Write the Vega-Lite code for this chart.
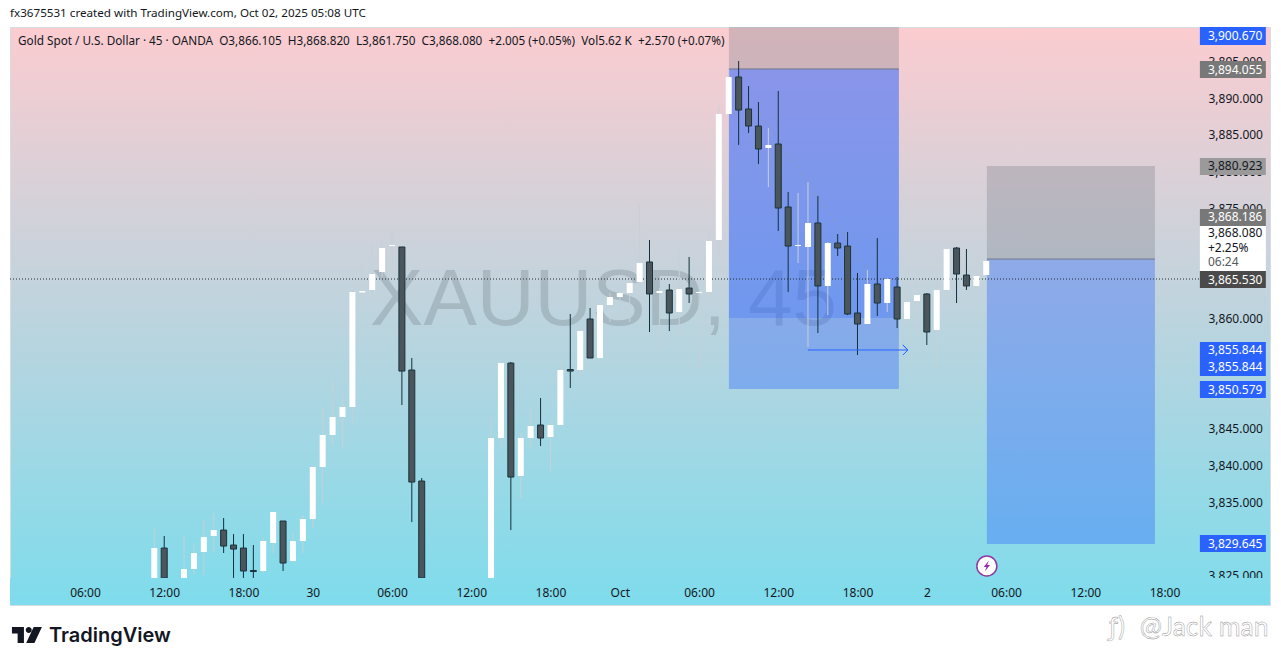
{
"$schema":"https://vega.github.io/schema/vega-lite/v6.json",
"width":1260,"height":578,
"autosize":{"type":"none"},
"padding":{"left":10,"top":27,"right":11,"bottom":61},
"background":"#ffffff",
"view":{"stroke":"#d5dde0","strokeWidth":1,"fill":{"gradient":"linear","x1":0,"y1":0,"x2":0,"y2":1,"stops":[{"offset":0,"color":"#fbccd0"},{"offset":1,"color":"#7edcec"}]}},
"title":{"text":"fx3675531 created with TradingView.com, Oct 02, 2025 05:08 UTC","anchor":"start","frame":"group","offset":7,"font":"Noto Sans","fontSize":11.65,"fontWeight":"normal","color":"#131722"},
"datasets":{
"candles":[
{"n":7,"dir":"up","high":3831.46,"open":3824.64,"close":3828.73,"low":3824.64},
{"n":8,"dir":"down","high":3830.37,"open":3828.73,"close":3824.64,"low":3824.64},
{"n":10,"dir":"up","high":3830.37,"open":3824.64,"close":3825.87,"low":3824.64},
{"n":11,"dir":"up","high":3829.41,"open":3825.87,"close":3828.05,"low":3825.05},
{"n":12,"dir":"up","high":3832.55,"open":3828.19,"close":3830.23,"low":3825.05},
{"n":13,"dir":"up","high":3833.5,"open":3830.37,"close":3831.18,"low":3828.19},
{"n":14,"dir":"down","high":3832.82,"open":3831.18,"close":3829.0,"low":3828.05},
{"n":15,"dir":"down","high":3830.64,"open":3829.14,"close":3828.59,"low":3824.64},
{"n":16,"dir":"down","high":3830.64,"open":3828.73,"close":3825.6,"low":3824.64},
{"n":17,"dir":"down","high":3829.14,"open":3825.67,"close":3825.53,"low":3824.64},
{"n":18,"dir":"up","high":3830.09,"open":3825.6,"close":3829.68,"low":3825.32},
{"n":19,"dir":"up","high":3833.64,"open":3829.41,"close":3833.64,"low":3828.05},
{"n":20,"dir":"down","high":3832.41,"open":3832.41,"close":3826.69,"low":3825.6},
{"n":21,"dir":"up","high":3830.77,"open":3826.96,"close":3829.68,"low":3826.69},
{"n":22,"dir":"up","high":3833.23,"open":3829.68,"close":3832.68,"low":3828.05},
{"n":23,"dir":"up","high":3840.04,"open":3832.68,"close":3839.77,"low":3831.46},
{"n":24,"dir":"up","high":3847.8,"open":3839.77,"close":3844.13,"low":3834.86},
{"n":25,"dir":"up","high":3851.62,"open":3844.13,"close":3846.58,"low":3842.76},
{"n":26,"dir":"up","high":3849.98,"open":3846.58,"close":3847.94,"low":3842.49},
{"n":27,"dir":"up","high":3863.88,"open":3847.94,"close":3863.61,"low":3845.76},
{"n":28,"dir":"up","high":3867.56,"open":3863.54,"close":3863.74,"low":3861.97},
{"n":29,"dir":"up","high":3870.01,"open":3863.88,"close":3866.06,"low":3862.11},
{"n":30,"dir":"up","high":3870.69,"open":3866.33,"close":3869.6,"low":3865.65},
{"n":31,"dir":"up","high":3871.78,"open":3869.87,"close":3870.01,"low":3866.2},
{"n":32,"dir":"down","high":3869.74,"open":3869.74,"close":3852.84,"low":3848.21},
{"n":33,"dir":"down","high":3854.62,"open":3852.98,"close":3837.72,"low":3832.27},
{"n":34,"dir":"down","high":3838.27,"open":3837.86,"close":3824.64,"low":3824.64},
{"n":41,"dir":"up","high":3846.58,"open":3824.64,"close":3843.72,"low":3824.64},
{"n":42,"dir":"up","high":3853.93,"open":3843.72,"close":3853.93,"low":3842.49},
{"n":43,"dir":"down","high":3854.07,"open":3853.93,"close":3838.4,"low":3831.18},
{"n":44,"dir":"up","high":3844.4,"open":3838.54,"close":3843.72,"low":3835.54},
{"n":45,"dir":"up","high":3847.8,"open":3843.72,"close":3845.35,"low":3842.35},
{"n":46,"dir":"down","high":3849.17,"open":3845.49,"close":3843.72,"low":3842.63},
{"n":47,"dir":"up","high":3846.17,"open":3843.85,"close":3845.49,"low":3839.22},
{"n":48,"dir":"up","high":3854.48,"open":3845.49,"close":3852.98,"low":3845.35},
{"n":49,"dir":"down","high":3860.61,"open":3853.05,"close":3852.84,"low":3850.53},
{"n":50,"dir":"up","high":3858.84,"open":3852.98,"close":3858.29,"low":3852.3},
{"n":51,"dir":"down","high":3861.43,"open":3859.93,"close":3854.62,"low":3854.62},
{"n":52,"dir":"up","high":3862.11,"open":3854.62,"close":3861.84,"low":3854.62},
{"n":53,"dir":"up","high":3863.47,"open":3861.84,"close":3862.93,"low":3859.52},
{"n":54,"dir":"up","high":3863.88,"open":3862.93,"close":3863.47,"low":3859.79},
{"n":55,"dir":"up","high":3865.52,"open":3863.47,"close":3864.83,"low":3859.52},
{"n":56,"dir":"up","high":3875.46,"open":3864.97,"close":3867.56,"low":3864.15},
{"n":57,"dir":"down","high":3870.69,"open":3867.7,"close":3863.34,"low":3858.16},
{"n":58,"dir":"up","high":3864.15,"open":3863.47,"close":3863.74,"low":3855.43},
{"n":59,"dir":"down","high":3864.7,"open":3863.88,"close":3860.75,"low":3858.29},
{"n":60,"dir":"up","high":3869.74,"open":3860.88,"close":3864.02,"low":3857.61},
{"n":61,"dir":"down","high":3868.38,"open":3864.15,"close":3863.34,"low":3862.11},
{"n":62,"dir":"up","high":3863.88,"open":3863.47,"close":3863.61,"low":3853.25},
{"n":63,"dir":"up","high":3871.65,"open":3863.61,"close":3870.56,"low":3857.61},
{"n":64,"dir":"up","high":3889.08,"open":3870.69,"close":3887.86,"low":3868.38},
{"n":65,"dir":"up","high":3893.85,"open":3887.86,"close":3892.9,"low":3887.86},
{"n":66,"dir":"down","high":3895.08,"open":3892.9,"close":3888.4,"low":3883.64},
{"n":67,"dir":"down","high":3891.67,"open":3888.54,"close":3886.22,"low":3885.27},
{"n":68,"dir":"down","high":3889.49,"open":3886.22,"close":3883.09,"low":3881.05},
{"n":69,"dir":"up","high":3885.95,"open":3883.23,"close":3883.64,"low":3877.91},
{"n":70,"dir":"down","high":3890.99,"open":3883.77,"close":3875.05,"low":3871.92},
{"n":71,"dir":"down","high":3877.23,"open":3875.19,"close":3869.87,"low":3863.61},
{"n":72,"dir":"up","high":3877.1,"open":3869.87,"close":3870.01,"low":3867.56},
{"n":73,"dir":"up","high":3878.59,"open":3869.74,"close":3873.01,"low":3856.11},
{"n":74,"dir":"down","high":3876.69,"open":3873.01,"close":3864.43,"low":3858.02},
{"n":75,"dir":"up","high":3870.42,"open":3864.43,"close":3870.28,"low":3860.47},
{"n":76,"dir":"down","high":3871.51,"open":3870.28,"close":3869.6,"low":3868.51},
{"n":77,"dir":"down","high":3871.78,"open":3869.87,"close":3860.61,"low":3860.47},
{"n":78,"dir":"down","high":3866.2,"open":3860.75,"close":3859.25,"low":3855.02},
{"n":79,"dir":"up","high":3866.61,"open":3859.25,"close":3864.7,"low":3859.25},
{"n":80,"dir":"down","high":3870.96,"open":3864.7,"close":3862.11,"low":3860.34},
{"n":81,"dir":"up","high":3865.52,"open":3862.11,"close":3865.38,"low":3860.88},
{"n":82,"dir":"down","high":3865.65,"open":3864.29,"close":3859.93,"low":3858.7},
{"n":83,"dir":"up","high":3864.15,"open":3859.93,"close":3862.25,"low":3858.84},
{"n":84,"dir":"up","high":3866.61,"open":3862.38,"close":3863.2,"low":3857.75},
{"n":85,"dir":"down","high":3863.47,"open":3863.34,"close":3858.16,"low":3856.39},
{"n":86,"dir":"up","high":3864.97,"open":3858.43,"close":3863.88,"low":3853.25},
{"n":87,"dir":"up","high":3869.6,"open":3863.88,"close":3869.47,"low":3861.56},
{"n":88,"dir":"down","high":3869.74,"open":3869.6,"close":3866.06,"low":3862.11},
{"n":89,"dir":"down","high":3869.47,"open":3865.92,"close":3864.43,"low":3863.88},
{"n":90,"dir":"up","high":3867.42,"open":3864.43,"close":3865.79,"low":3864.43},
{"n":91,"dir":"up","high":3868.24,"open":3865.92,"close":3867.83,"low":3865.92}
],
"boxes":[
{"kind":"stop","from":65.02,"to":82.18,"top":3899.71,"bottom":3893.99},
{"kind":"target","from":65.02,"to":82.18,"top":3893.99,"bottom":3850.39},
{"kind":"fill","from":65.02,"to":82.18,"top":3893.99,"bottom":3860.07},
{"kind":"stop","from":91.06,"to":108.03,"top":3880.77,"bottom":3868.1},
{"kind":"target","from":91.06,"to":108.03,"top":3868.1,"bottom":3829.28}
],
"entries":[
{"from":65.02,"to":82.18,"price":3893.99},
{"from":91.06,"to":108.03,"price":3868.1}
],
"trend":[{"s":"trend","n":68.15,"price":3887.99},{"s":"trend","n":79.25,"price":3866.2}],
"arrow":[
{"o":0,"n":72.99,"price":3855.71},
{"o":1,"n":83.09,"price":3855.71},
{"o":2,"n":82.58,"price":3856.39},
{"o":3,"n":83.09,"price":3855.71},
{"o":4,"n":82.58,"price":3855.02}
],
"lastprice":[{"from":-7.57,"to":112.57,"price":3865.38}],
"mask":[{"from":-7.57,"to":119.65,"top":3824.64,"bottom":3820.97}],
"tagboxes":[
{"kind":"blue","from":112.57,"to":119.23,"top":3899.71,"bottom":3897.26},
{"kind":"gray","from":112.57,"to":119.23,"top":3895.08,"bottom":3892.76},
{"kind":"light","from":112.57,"to":119.23,"top":3881.86,"bottom":3879.55},
{"kind":"gray","from":112.57,"to":119.23,"top":3874.92,"bottom":3872.6},
{"kind":"white","from":112.57,"to":119.23,"top":3872.6,"bottom":3866.47},
{"kind":"dark","from":112.57,"to":119.23,"top":3866.47,"bottom":3864.15},
{"kind":"blue","from":112.57,"to":119.23,"top":3856.8,"bottom":3852.16},
{"kind":"blue","from":112.57,"to":119.23,"top":3851.48,"bottom":3849.17},
{"kind":"blue","from":112.57,"to":119.23,"top":3830.5,"bottom":3828.19}
],
"taglabels":[
{"ink":"light","n":113.38,"price":3898.49,"label":"3,900.670"},
{"ink":"light","n":113.38,"price":3893.92,"label":"3,894.055"},
{"ink":"ink","n":113.38,"price":3880.71,"label":"3,880.923"},
{"ink":"light","n":113.38,"price":3873.76,"label":"3,868.186"},
{"ink":"ink","n":113.38,"price":3871.65,"label":"3,868.080"},
{"ink":"ink","n":113.38,"price":3869.6,"label":"+2.25%"},
{"ink":"muted","n":113.38,"price":3867.7,"label":"06:24"},
{"ink":"light","n":113.38,"price":3865.31,"label":"3,865.530"},
{"ink":"light","n":113.38,"price":3855.71,"label":"3,855.844"},
{"ink":"light","n":113.38,"price":3853.39,"label":"3,855.844"},
{"ink":"light","n":113.38,"price":3850.32,"label":"3,850.579"},
{"ink":"light","n":113.38,"price":3829.34,"label":"3,829.645"}
],
"header":[{"n":-6.76,"price":3897.8,"label":"Gold Spot / U.S. Dollar · 45 · OANDA \u00a0O3,866.105 \u00a0H3,868.820 \u00a0L3,861.750 \u00a0C3,868.080 \u00a0+2.005 (+0.05%) \u00a0Vol5.62 K \u00a0+2.570 (+0.07%)"}],
"watermark":[{"n":52.35,"price":3862.45,"label":"XAUUSD, 45"}],
"brand":[{"n":-3.63,"price":3816.74,"label":"TradingView"}],
"logo":[{"n":-5.86,"price":3816.88}],
"credit":[{"n":106.51,"price":3817.83,"label":"@Jack man"},{"n":103.4,"price":3817.83,"label":"ƒ)"}],
"event":[{"n":91.06,"price":3826.28}]
},
"layer":[
{"data":{"name":"watermark"},
 "mark":{"type":"text","font":"Liberation Sans","fontSize":80,"align":"center","baseline":"middle","color":"#7f8e96","opacity":0.38},
 "encoding":{
  "x":{"field":"n","type":"quantitative","title":null,"scale":{"domain":[-7.57,119.65],"nice":false,"zero":false,"padding":0},
   "axis":{"orient":"bottom","values":[0,8,16,23,31,39,47,54,62,70,78,85,93,101,109],"labelExpr":"({0:'06:00',8:'12:00',16:'18:00',23:'30',31:'06:00',39:'12:00',47:'18:00',54:'Oct',62:'06:00',70:'12:00',78:'18:00',85:'2',93:'06:00',101:'12:00',109:'18:00'})[datum.value]","offset":-13,"zindex":1,"domain":false,"ticks":false,"grid":false,"labelPadding":0,"labelBaseline":"middle","labelFont":"Noto Sans","labelFontSize":12,"labelColor":"#131722","labelOverlap":false,"labelFlush":false}},
  "y":{"field":"price","type":"quantitative","title":null,"scale":{"domain":[3820.97,3899.71],"nice":false,"zero":false,"padding":0},
   "axis":{"orient":"right","values":[3825,3835,3840,3845,3860,3875,3880,3885,3890,3895],"format":",.3f","offset":-62,"zindex":0,"domain":false,"ticks":false,"grid":false,"labelPadding":0,"labelAlign":"left","labelFont":"Noto Sans","labelFontSize":12,"labelColor":"#131722","labelOverlap":false,"labelFlush":false}},
  "text":{"field":"label"}}},
{"data":{"name":"boxes"},
 "mark":{"type":"rect"},
 "encoding":{
  "x":{"field":"from","type":"quantitative","title":null},"x2":{"field":"to"},
  "y":{"field":"top","type":"quantitative","title":null},"y2":{"field":"bottom"},
  "color":{"field":"kind","type":"nominal","legend":null,"scale":{"domain":["stop","target","fill"],"range":["rgba(120,123,134,0.31)","rgba(41,98,255,0.36)","rgba(41,98,255,0.25)"]}}}},
{"data":{"name":"entries"},
 "mark":{"type":"rule","color":"#70768a","strokeWidth":1},
 "encoding":{"x":{"field":"from","type":"quantitative","title":null},"x2":{"field":"to"},"y":{"field":"price","type":"quantitative","title":null}}},
{"data":{"name":"trend"},
 "mark":{"type":"line","color":"#8d97a8","strokeWidth":1,"strokeDash":[4,4],"opacity":0.7},
 "encoding":{"x":{"field":"n","type":"quantitative","title":null},"y":{"field":"price","type":"quantitative","title":null}}},
{"data":{"name":"lastprice"},
 "mark":{"type":"rule","color":"#1e2a30","strokeWidth":1,"strokeDash":[1,2]},
 "encoding":{"x":{"field":"from","type":"quantitative","title":null},"x2":{"field":"to"},"y":{"field":"price","type":"quantitative","title":null}}},
{"data":{"name":"candles"},
 "mark":{"type":"rule","strokeWidth":1},
 "encoding":{
  "x":{"field":"n","type":"quantitative","title":null},
  "y":{"field":"high","type":"quantitative","title":null},"y2":{"field":"low"},
  "color":{"field":"dir","type":"nominal","legend":null,"scale":{"domain":["up","down"],"range":["#c7d0d6","#12303c"]}}}},
{"data":{"name":"candles"},
 "mark":{"type":"bar","size":6,"strokeWidth":1},
 "encoding":{
  "x":{"field":"n","type":"quantitative","title":null},
  "y":{"field":"open","type":"quantitative","title":null},"y2":{"field":"close"},
  "fill":{"field":"dir","type":"nominal","legend":null,"scale":{"domain":["up","down"],"range":["#ffffff","#4a565c"]}},
  "stroke":{"field":"dir","type":"nominal","legend":null,"scale":{"domain":["up","down"],"range":["rgba(255,255,255,0)","#1b333d"]}}}},
{"data":{"name":"arrow"},
 "mark":{"type":"line","color":"#2962ff","strokeWidth":1},
 "encoding":{"x":{"field":"n","type":"quantitative","title":null},"y":{"field":"price","type":"quantitative","title":null},"order":{"field":"o","type":"ordinal"}}},
{"data":{"name":"mask"},
 "mark":{"type":"rect","color":{"gradient":"linear","x1":0,"y1":0,"x2":0,"y2":1,"stops":[{"offset":0,"color":"#84dbeb"},{"offset":1,"color":"#7edcec"}]}},
 "encoding":{"x":{"field":"from","type":"quantitative","title":null},"x2":{"field":"to"},"y":{"field":"top","type":"quantitative","title":null},"y2":{"field":"bottom"}}},
{"data":{"name":"event"},
 "mark":{"type":"point","shape":"circle","size":400,"filled":true,"fill":"#ffffff","stroke":"#8e3a9d","strokeWidth":1.5,"opacity":1},
 "encoding":{"x":{"field":"n","type":"quantitative","title":null},"y":{"field":"price","type":"quantitative","title":null}}},
{"data":{"name":"event"},
 "mark":{"type":"point","shape":"M.3,-.8L-.45,.15H-.05L-.3,.8L.45,-.15H.05Z","size":196,"filled":true,"fill":"#9c27b0","strokeWidth":0,"opacity":1},
 "encoding":{"x":{"field":"n","type":"quantitative","title":null},"y":{"field":"price","type":"quantitative","title":null}}},
{"data":{"name":"tagboxes"},
 "mark":{"type":"rect"},
 "encoding":{
  "x":{"field":"from","type":"quantitative","title":null},"x2":{"field":"to"},
  "y":{"field":"top","type":"quantitative","title":null},"y2":{"field":"bottom"},
  "color":{"field":"kind","type":"nominal","legend":null,"scale":{"domain":["blue","gray","light","white","dark"],"range":["#2962ff","#787878","#9a9a9a","#ffffff","#4a4a4a"]}}}},
{"data":{"name":"taglabels"},
 "mark":{"type":"text","align":"left","baseline":"middle","font":"Noto Sans","fontSize":12},
 "encoding":{
  "x":{"field":"n","type":"quantitative","title":null},
  "y":{"field":"price","type":"quantitative","title":null},
  "text":{"field":"label"},
  "color":{"field":"ink","type":"nominal","legend":null,"scale":{"domain":["light","ink","muted"],"range":["#ffffff","#131722","#555a60"]}}}},
{"data":{"name":"header"},
 "mark":{"type":"text","align":"left","baseline":"middle","font":"Noto Sans","fontSize":11.75,"color":"#131722"},
 "encoding":{"x":{"field":"n","type":"quantitative","title":null},"y":{"field":"price","type":"quantitative","title":null},"text":{"field":"label"}}},
{"data":{"name":"logo"},
 "mark":{"type":"point","shape":"M-1,-.53H-.2V.53H-.62V-.1H-1ZM.12,-.53A.2,.2 0 1 1 .12,-.13A.2,.2 0 1 1 .12,-.53ZM.45,-.53H1L.5,.53H-.05Z","size":900,"filled":true,"fill":"#131722","strokeWidth":0,"opacity":1},
 "encoding":{"x":{"field":"n","type":"quantitative","title":null},"y":{"field":"price","type":"quantitative","title":null}}},
{"data":{"name":"brand"},
 "mark":{"type":"text","align":"left","baseline":"middle","font":"Inter","fontSize":20,"fontWeight":600,"color":"#131722"},
 "encoding":{"x":{"field":"n","type":"quantitative","title":null},"y":{"field":"price","type":"quantitative","title":null},"text":{"field":"label"}}},
{"data":{"name":"credit"},
 "mark":{"type":"text","align":"left","baseline":"middle","font":"Lato","fontSize":26.5,"fill":"#ffffff","stroke":"#8a8a8a","strokeWidth":0.4},
 "encoding":{"x":{"field":"n","type":"quantitative","title":null},"y":{"field":"price","type":"quantitative","title":null},"text":{"field":"label"}}}
],
"resolve":{"scale":{"color":"independent","fill":"independent","stroke":"independent"}}
}
